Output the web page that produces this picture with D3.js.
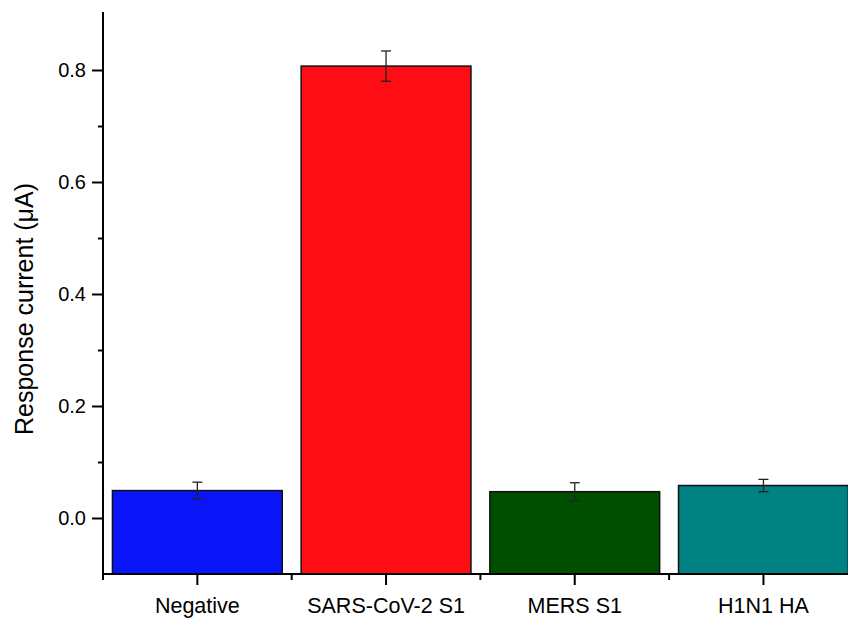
<!DOCTYPE html>
<html>
<head>
<meta charset="utf-8">
<script src="https://cdn.jsdelivr.net/npm/d3@7"></script>
<style>
  html, body { margin: 0; padding: 0; background: #fff; }
  text { font-family: "Liberation Sans", Arial, sans-serif; fill: #000; }
</style>
</head>
<body>
<svg id="chart" width="848" height="619"></svg>
<script>
const categories = ["Negative", "SARS-CoV-2 S1", "MERS S1", "H1N1 HA"];
const values = [0.049, 0.807, 0.047, 0.058];
const errors = [0.015, 0.027, 0.016, 0.011];
const colors = ["#0A14F8", "#FF0D14", "#004F00", "#008282"];
const yTicks = [0.0, 0.2, 0.4, 0.6, 0.8];
const yMinorTicks = [0.1, 0.3, 0.5, 0.7];
const yLabel = "Response current (\u03BCA)";

(function () {
const svg = d3.select("#chart");
const mLeft = 103, mTop = 14, mBottom = 574;
const bandW = 188.7;
const mRight = mLeft + bandW * categories.length;

const x = d3.scaleBand().domain(categories).range([mLeft, mRight]).paddingInner(0.1).paddingOuter(0.05);
const y = d3.scaleLinear().domain([-0.1, 0.9]).range([mBottom, mTop]);

// bars
svg.append("g").selectAll("rect").data(categories).join("rect")
  .attr("x", d => x(d))
  .attr("width", x.bandwidth())
  .attr("y", (d, i) => y(values[i]))
  .attr("height", (d, i) => y(-0.1) - y(values[i]))
  .attr("fill", (d, i) => colors[i])
  .attr("stroke", "#111")
  .attr("stroke-width", 1.5);

// error bars
const eb = svg.append("g").attr("stroke", "#222").attr("stroke-width", 1.3);
categories.forEach((c, i) => {
  const cx = x(c) + x.bandwidth() / 2;
  const y1 = y(values[i] + errors[i]), y2 = y(values[i] - errors[i]);
  eb.append("line").attr("x1", cx).attr("x2", cx).attr("y1", y1).attr("y2", y2);
  eb.append("line").attr("x1", cx - 5).attr("x2", cx + 5).attr("y1", y1).attr("y2", y1);
  eb.append("line").attr("x1", cx - 5).attr("x2", cx + 5).attr("y1", y2).attr("y2", y2);
});

// y axis
const yAxis = svg.append("g").attr("transform", `translate(${mLeft},0)`)
  .call(d3.axisLeft(y).tickValues(yTicks).tickFormat(d3.format(".1f")).tickSize(11).tickPadding(6));
yAxis.select(".domain").attr("stroke-width", 2).attr("d", `M0,${mTop - 2}V${mBottom}`);
yAxis.selectAll(".tick line").attr("stroke-width", 2);
yAxis.selectAll(".tick text").style("font-size", "20px");
const yMinor = svg.append("g").attr("transform", `translate(${mLeft},0)`)
  .call(d3.axisLeft(y).tickValues(yMinorTicks).tickFormat("").tickSize(5));
yMinor.select(".domain").remove();
yMinor.selectAll(".tick line").attr("stroke-width", 2);

// x axis
const xAxis = svg.append("g").attr("transform", `translate(0,${mBottom})`)
  .call(d3.axisBottom(x).tickSize(11).tickPadding(13));
xAxis.select(".domain").attr("stroke-width", 2).attr("d", `M${mLeft},0H${mRight}`);
xAxis.selectAll(".tick line").attr("stroke-width", 2);
xAxis.selectAll(".tick text").style("font-size", "21.5px");
const boundaries = d3.range(categories.length + 1).map(i => mLeft + i * bandW);
svg.append("g").selectAll("line").data(boundaries).join("line")
  .attr("x1", d => d).attr("x2", d => d)
  .attr("y1", mBottom).attr("y2", mBottom + 6)
  .attr("stroke", "#000").attr("stroke-width", 2);

// y label
svg.append("text")
  .attr("transform", `translate(33,309) rotate(-90)`)
  .attr("text-anchor", "middle")
  .style("font-size", "25px")
  .text(yLabel);
})();
</script>
</body>
</html>
